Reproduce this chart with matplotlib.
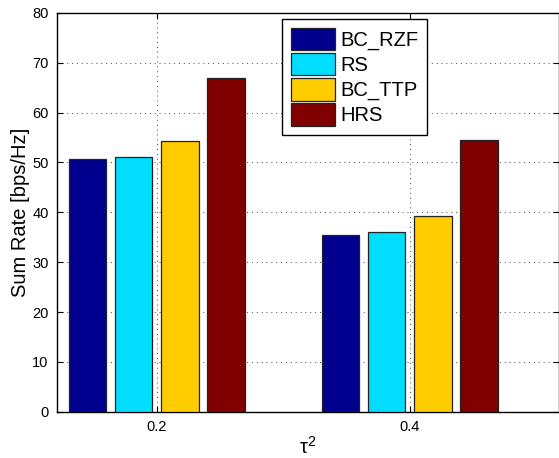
import matplotlib.pyplot as plt
import numpy as np

plt.rcParams['font.family'] = ['Liberation Sans', 'DejaVu Sans']

tau2 = [0.2, 0.4]
series_names = ['BC_RZF', 'RS', 'BC_TTP', 'HRS']
bc_rzf = [50.6, 35.5]
rs = [51.0, 36.1]
bc_ttp = [54.2, 39.3]
hrs = [66.9, 54.4]
colors = ['#00008F', '#00DDFF', '#FFCC00', '#800000']

fig = plt.figure(figsize=(5.59, 4.58), dpi=100)
ax = fig.add_axes([0.102, 0.101, 0.898, 0.871])

x = np.array(tau2)
step = 0.0365
width = 0.0295
for i, (vals, name, c) in enumerate(zip([bc_rzf, rs, bc_ttp, hrs], series_names, colors)):
    ax.bar(x + (i - 1.5) * step, vals, width, color=c, edgecolor='#222222',
           linewidth=0.9, label=name, zorder=3)

ax.set_xlim(0.121, 0.518)
ax.set_ylim(0, 80)
ax.set_xticks(tau2)
ax.set_xticklabels(['0.2', '0.4'])
ax.set_yticks(range(0, 81, 10))
ax.tick_params(direction='in', length=4, labelsize=10.5, pad=6, top=True, right=True)
ax.grid(True, linestyle=(0, (1, 4)), color='#444444', linewidth=0.7)
ax.set_axisbelow(True)
for s in ax.spines.values():
    s.set_linewidth(1.0)
    s.set_color('black')

ax.set_ylabel('Sum Rate [bps/Hz]', fontsize=14.5, labelpad=2)
ax.set_xlabel(r'$\mathregular{\tau^2}$', fontsize=14.5, labelpad=1)

leg = ax.legend(loc='upper left', bbox_to_anchor=(0.448, 0.985), fontsize=14.5,
                handlelength=2.2, handleheight=1.35, labelspacing=0.12,
                handletextpad=0.25, borderpad=0.45, borderaxespad=0,
                fancybox=False, framealpha=1, edgecolor='black')
leg.get_frame().set_linewidth(1.0)

fig.savefig('out.png', dpi=100)
